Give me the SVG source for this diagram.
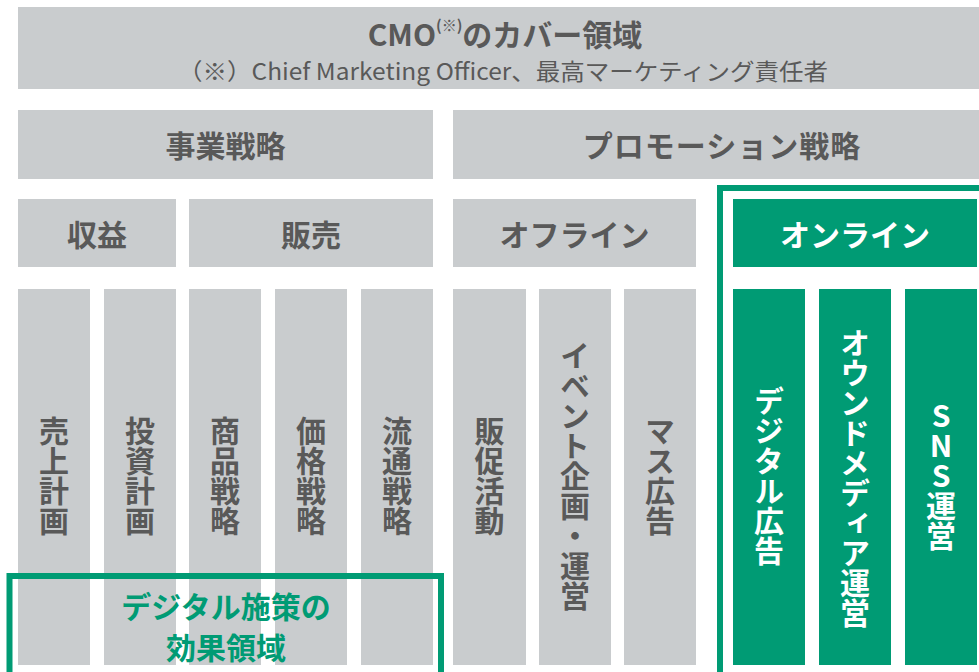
<svg xmlns="http://www.w3.org/2000/svg" width="979" height="672" viewBox="0 0 979 672">
<style>
.g{fill:#c9ccce}
.gr{fill:#009b74}
.t{font-family:"Noto Sans CJK JP","Noto Sans",sans-serif;font-weight:700;font-size:30px;fill:#595959;text-anchor:middle;dominant-baseline:central}
.w{fill:#ffffff}
.gt{fill:#009b74}
.v{writing-mode:vertical-rl;text-orientation:upright}
.sub{font-weight:400;font-size:23px}
.ol{fill:none;stroke:#009b74;stroke-width:6}
</style>
<rect width="979" height="672" fill="#ffffff"/>
<g id="cmo">
<rect class="g" x="18" y="7" width="975" height="82"/>
<text class="t" x="505" y="33" font-size="30">CMO<tspan font-size="15" dy="-9">(※)</tspan><tspan dy="9">のカバー領域</tspan></text>
<text class="t sub" x="503" y="70" textLength="650" lengthAdjust="spacingAndGlyphs">（※）Chief Marketing Officer、最高マーケティング責任者</text>
</g>
<g id="business">
<rect class="g" x="18" y="110" width="415" height="69"/>
<text class="t" x="225.5" y="144">事業戦略</text>
</g>
<g id="promotion">
<rect class="g" x="453" y="110" width="540" height="69"/>
<text class="t" x="722" y="144" letter-spacing="1">プロモーション戦略</text>
</g>
<g id="revenue">
<rect class="g" x="18" y="199" width="158" height="68"/>
<text class="t" x="97" y="233">収益</text>
</g>
<g id="sales">
<rect class="g" x="189" y="199" width="244" height="68"/>
<text class="t" x="311" y="233">販売</text>
</g>
<g id="offline">
<rect class="g" x="453" y="199" width="243" height="68"/>
<text class="t" x="574.5" y="233">オフライン</text>
</g>
<g id="online">
<rect class="gr" x="733" y="199" width="244" height="68"/>
<text class="t w" x="855" y="233">オンライン</text>
</g>
<g id="col-sales-plan">
<rect class="g" x="18" y="289" width="72" height="376"/>
<text class="t v" x="54" y="476">売上計画</text>
</g>
<g id="col-invest-plan">
<rect class="g" x="104" y="289" width="72" height="376"/>
<text class="t v" x="140" y="476">投資計画</text>
</g>
<g id="col-product">
<rect class="g" x="189" y="289" width="72" height="376"/>
<text class="t v" x="225" y="476">商品戦略</text>
</g>
<g id="col-price">
<rect class="g" x="275" y="289" width="72" height="376"/>
<text class="t v" x="311" y="476">価格戦略</text>
</g>
<g id="col-distribution">
<rect class="g" x="361" y="289" width="72" height="376"/>
<text class="t v" x="397" y="476">流通戦略</text>
</g>
<g id="col-promo">
<rect class="g" x="453" y="289" width="73" height="376"/>
<text class="t v" x="489.5" y="476">販促活動</text>
</g>
<g id="col-event">
<rect class="g" x="539" y="289" width="72" height="376"/>
<text class="t v" x="575" y="476">イベント企画・運営</text>
</g>
<g id="col-mass">
<rect class="g" x="624" y="289" width="72" height="376"/>
<text class="t v" x="660" y="476">マス広告</text>
</g>
<g id="col-digital-ad">
<rect class="gr" x="733" y="289" width="72" height="376"/>
<text class="t v w" x="769" y="476">デジタル広告</text>
</g>
<g id="col-owned">
<rect class="gr" x="819" y="289" width="72" height="376"/>
<text class="t v w" x="855" y="478">オウンドメディア運営</text>
</g>
<g id="col-sns">
<rect class="gr" x="905" y="289" width="72" height="376"/>
<text class="t v w" x="941" y="476">SNS運営</text>
</g>
<g id="online-area">
<rect class="ol" x="720" y="188" width="300" height="520"/>
</g>
<g id="digital-effect">
<rect class="ol" x="9.5" y="576" width="431.5" height="200"/>
<text class="t gt" x="226" y="605" font-size="28">デジタル施策の</text>
<text class="t gt" x="226" y="646" font-size="28">効果領域</text>
</g>
<g id="connectors"/>
</svg>
